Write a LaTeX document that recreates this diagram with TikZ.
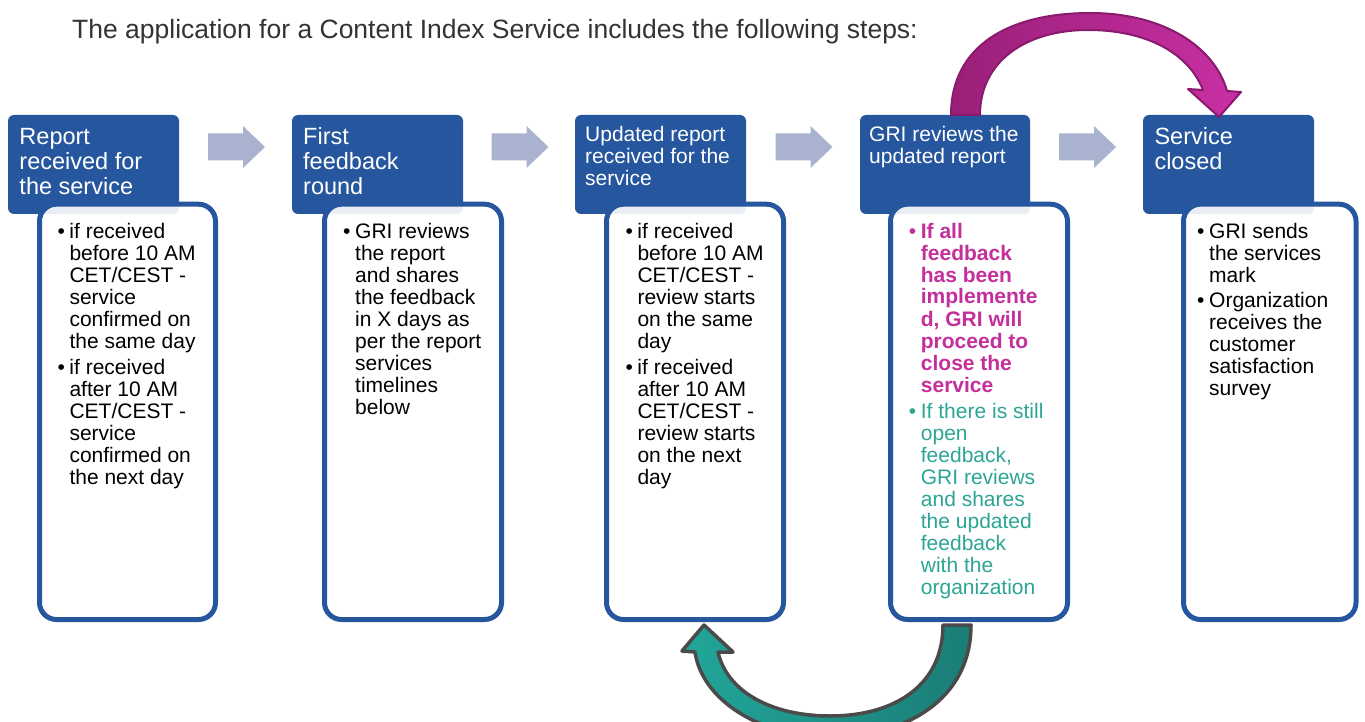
\documentclass[tikz,border=0pt]{standalone}
\usepackage{fontspec}
\setmainfont{Liberation Sans}
\usetikzlibrary{calc}
\definecolor{hdrblue}{HTML}{25569E}
\definecolor{arrgray}{HTML}{A9B2CE}
\definecolor{magtxt}{HTML}{C42F9C}
\definecolor{teatxt}{HTML}{2BA595}
\definecolor{titlegray}{HTML}{333333}
\definecolor{magL}{HTML}{9A1F78}
\definecolor{magR}{HTML}{C830A4}
\definecolor{magO}{HTML}{8A1A6E}
\definecolor{teaL}{HTML}{22A699}
\definecolor{teaR}{HTML}{1A7D76}
\definecolor{teaO}{HTML}{4A4A4A}
\newcommand{\bul}{\makebox[12pt][l]{•}}
\tikzset{
  hdr/.style={draw=none, fill=hdrblue, rounded corners=6pt, anchor=north west, inner sep=0pt, outer sep=0pt, minimum width=171pt, minimum height=99pt},
  hdrtxt/.style={anchor=base west, inner sep=0pt, text=white},
  bigh/.style={font=\fontsize{23.5}{24.7}\selectfont},
  smallh/.style={font=\fontsize{21}{21.7}\selectfont},
  bodybox/.style={draw=hdrblue, line width=5pt, fill=white, fill opacity=0.9, rounded corners=17pt, anchor=north west, inner sep=0pt, outer sep=0pt, minimum width=177pt, minimum height=415.3pt},
  bodytxt/.style={anchor=base west, inner sep=0pt, font=\fontsize{21}{22}\selectfont},
  blockarr/.style={fill=arrgray},
  titletxt/.style={anchor=base west, inner sep=0pt, text=titlegray, font=\fontsize{26.5}{30}\selectfont},
  magarrow/.style={draw=magO, line width=2pt, left color=magL, right color=magR, line join=round},
  teaarrow/.style={draw=teaO, line width=3.5pt, left color=teaL, right color=teaR, line join=round},
}
\begin{document}
\begin{tikzpicture}[x=1pt,y=-1pt]
\useasboundingbox (0,0) rectangle (1365,722);

\node[titletxt] (title) at (72,39) {The application for a Content Index Service includes the following steps:};

% headers
\node[hdr] (h1) at (8,115) {};
\node[hdr] (h2) at (292,115) {};
\node[hdr] (h3) at (575,115) {};
\node[hdr, minimum width=170pt] (h4) at (860,115) {};
\node[hdr] (h5) at (1143,115) {};

\node[hdrtxt, bigh] (ht1) at ($(h1.north west)+(11.3,30)$) {\begin{tabular}[t]{@{}l@{}}Report\\received for\\the service\end{tabular}};
\node[hdrtxt, bigh] (ht2) at ($(h2.north west)+(11,30)$) {\begin{tabular}[t]{@{}l@{}}First\\feedback\\round\end{tabular}};
\node[hdrtxt, smallh] (ht3) at ($(h3.north west)+(10,26.7)$) {\begin{tabular}[t]{@{}l@{}}Updated report\\received for the\\service\end{tabular}};
\node[hdrtxt, smallh] (ht4) at ($(h4.north west)+(9,26.7)$) {\begin{tabular}[t]{@{}l@{}}GRI reviews the\\updated report\end{tabular}};
\node[hdrtxt, bigh] (ht5) at ($(h5.north west)+(11.3,30)$) {\begin{tabular}[t]{@{}l@{}}Service\\closed\end{tabular}};

% block arrows
\foreach \a/\b in {h1/h2,h2/h3,h3/h4,h4/h5}{
  \fill[blockarr] ($(\a.north east)!0.5!(\b.north west)+(-27.5,18.5)$) -- ++(35,0) -- ++(0,-7.5) -- ++(22,21) -- ++(-22,21) -- ++(0,-7.5) -- ++(-35,0) -- cycle;
}

% body boxes
\node[bodybox, minimum width=176pt] (b1) at (39.5,204.2) {};
\node[bodybox] (b2) at (324.5,204.2) {};
\node[bodybox] (b3) at (606.5,204.2) {};
\node[bodybox] (b4) at (890.5,204.2) {};
\node[bodybox, minimum width=172.5pt] (b5) at (1183.5,204.2) {};

% body texts
\node[bodytxt] (t1) at (57.3,238.5) {\begin{tabular}[t]{@{}l@{}l@{}}
\bul & if received\\ & before 10 AM\\ & CET/CEST -\\ & service\\ & confirmed on\\ & the same day\\[4pt]
\bul & if received\\ & after 10 AM\\ & CET/CEST -\\ & service\\ & confirmed on\\ & the next day
\end{tabular}};
\node[bodytxt] (t2) at (343,238.8) {\begin{tabular}[t]{@{}l@{}l@{}}
\bul & GRI reviews\\ & the report\\ & and shares\\ & the feedback\\ & in X days as\\ & per the report\\ & services\\ & timelines\\ & below
\end{tabular}};
\node[bodytxt] (t3) at (625.3,238.5) {\begin{tabular}[t]{@{}l@{}l@{}}
\bul & if received\\ & before 10 AM\\ & CET/CEST -\\ & review starts\\ & on the same\\ & day\\[4pt]
\bul & if received\\ & after 10 AM\\ & CET/CEST -\\ & review starts\\ & on the next\\ & day
\end{tabular}};
\node[bodytxt] (t4) at (908.7,238) {\begin{tabular}[t]{@{}l@{}l@{}}
\color{magtxt}\bul & \color{magtxt}\bfseries If all\\ & \color{magtxt}\bfseries feedback\\ & \color{magtxt}\bfseries has been\\ & \color{magtxt}\bfseries implemente\\ & \color{magtxt}\bfseries d, GRI will\\ & \color{magtxt}\bfseries proceed to\\ & \color{magtxt}\bfseries close the\\ & \color{magtxt}\bfseries service\\[4.5pt]
\color{teatxt}\bul & \color{teatxt}If there is still\\ & \color{teatxt}open\\ & \color{teatxt}feedback,\\ & \color{teatxt}GRI reviews\\ & \color{teatxt}and shares\\ & \color{teatxt}the updated\\ & \color{teatxt}feedback\\ & \color{teatxt}with the\\ & \color{teatxt}organization
\end{tabular}};
\node[bodytxt] (t5) at (1197,238.3) {\begin{tabular}[t]{@{}l@{}l@{}}
\bul & GRI sends\\ & the services\\ & mark\\[3pt]
\bul & Organization\\ & receives the\\ & customer\\ & satisfaction\\ & survey
\end{tabular}};

% magenta curved arrow (h4 -> h5)
\coordinate (mStart) at ($(h4.north west)+(91,0)$);
\coordinate (mTip) at ($(h5.north west)+(76,2)$);
\shadedraw[magarrow] (mStart) .. controls (951,45) and (1010,13) .. (1090,13)
  .. controls (1165,13) and (1215,48) .. (1227,91) -- (1241,92) -- (mTip) -- (1188,89) -- (1203,90)
  .. controls (1188,52) and (1145,30) .. (1088,30)
  .. controls (1025,30) and (980,62) .. (980,115) -- cycle;

% teal curved arrow (b4 -> b3)
\begin{scope}
\clip (0,0) rectangle (1365,722);
\coordinate (tStart) at (971,625);
\coordinate (tTip) at (704,625);
\shadedraw[teaarrow] (tStart) .. controls (971,700) and (905,737) .. (830,737)
  .. controls (760,737) and (702,700) .. (695,652) -- (682,651) -- (tTip) -- (733,652) -- (718,652)
  .. controls (727,692) and (772,716) .. (830,716)
  .. controls (895,716) and (943,685) .. (943,625) -- cycle;
\end{scope}
\end{tikzpicture}
\end{document}
